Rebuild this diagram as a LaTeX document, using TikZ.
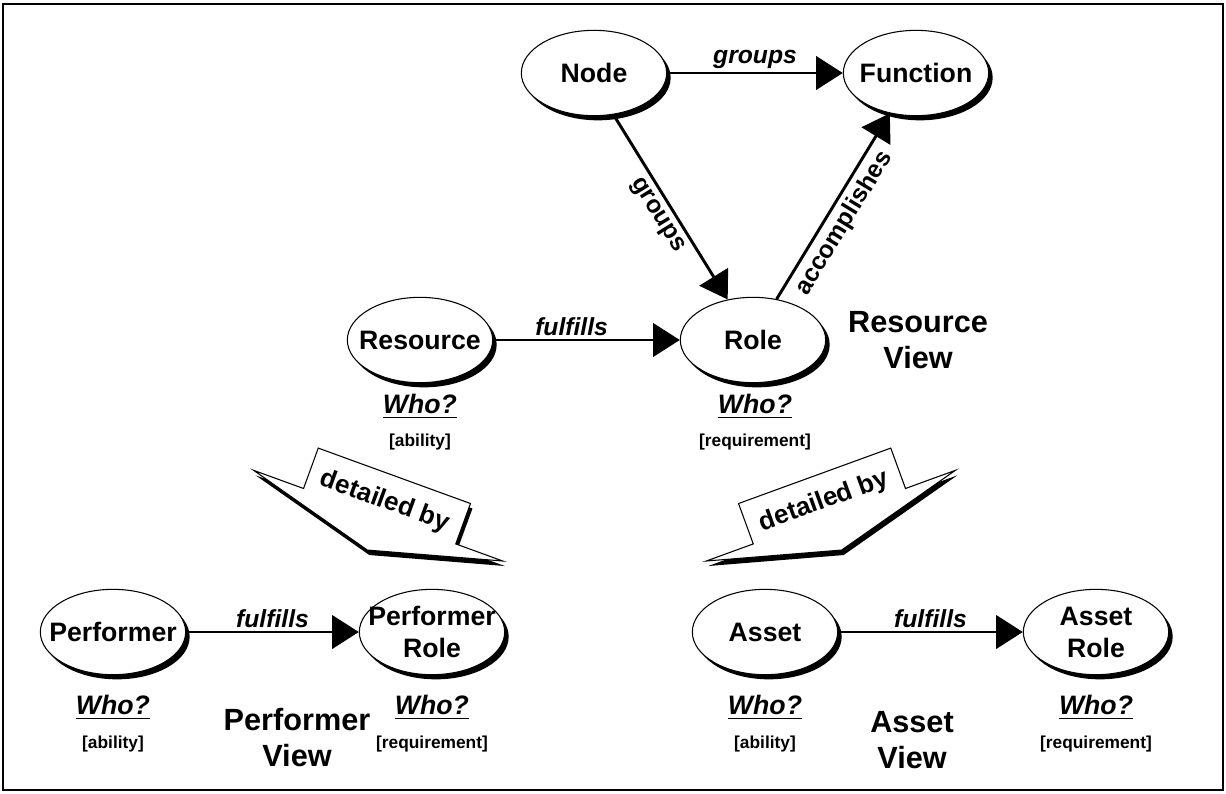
\documentclass[tikz,border=0pt]{standalone}
\usepackage{fontspec}
\setmainfont{Liberation Sans}
\newcommand{\ulword}[1]{\setbox0\hbox{#1}\rlap{\usebox0}\rule[-3.5pt]{\wd0}{1.1pt}}
\usetikzlibrary{shapes,arrows.meta,shadows}

\begin{document}
\begin{tikzpicture}[x=0.75pt,y=-0.75pt,>={Triangle[length=20pt,width=25pt]},
    ell/.style={draw, shape=ellipse, fill=white, line width=0.8pt, minimum width=109pt, minimum height=64pt,
        inner xsep=-12pt, inner ysep=-3pt, align=center, font=\fontsize{20}{24}\selectfont\bfseries,
        drop shadow={shadow xshift=3pt, shadow yshift=-3.5pt, fill=black, opacity=1}},
    rel/.style={->, line width=2.2pt},
    lbl/.style={inner sep=2pt, font=\fontsize{18.5}{20}\selectfont\bfseries\itshape},
    slbl/.style={inner sep=4pt, font=\fontsize{18.5}{20}\selectfont\bfseries},
    who/.style={font=\fontsize{20}{22}\selectfont\bfseries\itshape},
    req/.style={font=\fontsize{13}{15}\selectfont\bfseries},
    view/.style={align=center, font=\fontsize{23}{27}\selectfont\bfseries},
    box/.style={draw, fill=white, line width=0.8pt},
    boxshade/.style={fill=black}]
        \useasboundingbox (0,0) rectangle (1226,793);
        \draw[line width=1pt] (3,4) rectangle (1223,790);

        % resource view
        \node[ell] (node) at (594,73) {Node};
        \node[ell] (func) at (916,73) {Function};
        \node[ell] (res) at (420,340) {Resource};
        \node[ell] (role) at (753,340) {Role};
        \draw[rel] (node) -- (func) node[lbl, midway, above] {groups};
        \draw[rel] (node.295) -- (role.122) node[slbl, midway, below, sloped] {groups};
        \draw[rel] (role.60) -- (func.237) node[slbl, pos=0.46, below, sloped] {accomplishes};
        \draw[rel] (res) -- (role) node[lbl, pos=0.42, above] {fulfills};
        \node[who] (resWho) at (420,406) {\ulword{Who?}};
        \node[req] (resAbility) at (420,442) {[ability]};
        \node[who] (roleWho) at (755,406) {\ulword{Who?}};
        \node[req] (roleReq) at (755,442) {[requirement]};
        \node[view] (resView) at (918,340) {Resource\\View};

        % detailed by arrows
        \begin{scope}[shift={(389,501)}, rotate=-20]
            \fill[boxshade] (-81,-21.5) -- (81,-21.5) -- (81,21.5) -- (131,21.5) -- (0,57.5) -- (-134,21.5) -- (-81,21.5) -- cycle;
        \end{scope}
        \begin{scope}[shift={(387,496)}, rotate=-20]
            \draw[box] (-81,-21.5) -- (81,-21.5) -- (81,21.5) -- (131,21.5) -- (0,57.5) -- (-134,21.5) -- (-81,21.5) -- cycle;
            \node[slbl, font=\fontsize{19.5}{20}\selectfont\bfseries, rotate=-20] (detailLeft) at (0,6) {detailed by};
        \end{scope}
        \begin{scope}[shift={(824,501)}, rotate=20]
            \fill[boxshade] (-81,-21.5) -- (81,-21.5) -- (81,21.5) -- (134,21.5) -- (0,57.5) -- (-131,21.5) -- (-81,21.5) -- cycle;
        \end{scope}
        \begin{scope}[shift={(822,496)}, rotate=20]
            \draw[box] (-81,-21.5) -- (81,-21.5) -- (81,21.5) -- (134,21.5) -- (0,57.5) -- (-131,21.5) -- (-81,21.5) -- cycle;
            \node[slbl, font=\fontsize{19.5}{20}\selectfont\bfseries, rotate=20] (detailRight) at (0,6) {detailed by};
        \end{scope}

        % performer view
        \node[ell] (perf) at (113,632) {Performer};
        \node[ell] (perfRole) at (432,632) {Performer\\Role};
        \draw[rel] (perf) -- (perfRole) node[lbl, midway, above] {fulfills};
        \node[who] (perfWho) at (113,707) {\ulword{Who?}};
        \node[req] (perfAbility) at (113,744) {[ability]};
        \node[who] (perfRoleWho) at (432,707) {\ulword{Who?}};
        \node[req] (perfRoleReq) at (432,744) {[requirement]};
        \node[view] (perfView) at (297,738) {Performer\\View};

        % asset view
        \node[ell] (asset) at (765,632) {Asset};
        \node[ell] (assetRole) at (1096,632) {Asset\\Role};
        \draw[rel] (asset) -- (assetRole) node[lbl, midway, above] {fulfills};
        \node[who] (assetWho) at (765,707) {\ulword{Who?}};
        \node[req] (assetAbility) at (765,744) {[ability]};
        \node[who] (assetRoleWho) at (1096,707) {\ulword{Who?}};
        \node[req] (assetRoleReq) at (1096,744) {[requirement]};
        \node[view] (assetView) at (912,740) {Asset\\View};
    \end{tikzpicture}
\end{document}
